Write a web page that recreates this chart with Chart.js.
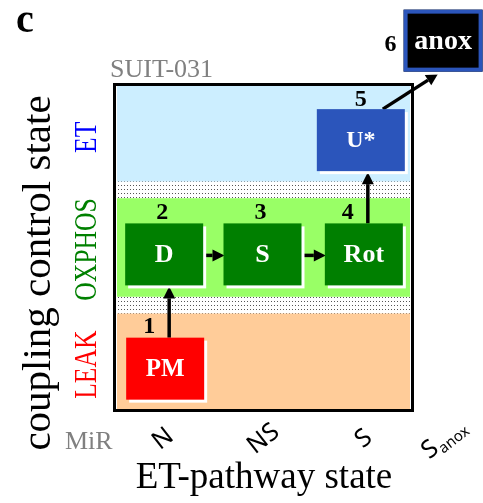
<!DOCTYPE html>
<html>
<head>
<meta charset="utf-8">
<script src="https://cdn.jsdelivr.net/npm/chart.js@4.4.1/dist/chart.umd.min.js"></script>
<style>
  html, body { margin: 0; padding: 0; background: #fff; }
  #wrap { width: 483px; height: 503px; }
</style>
</head>
<body>
<div id="wrap"><canvas id="chart" width="483" height="503"></canvas></div>
<script>
// x: ET-pathway state, y: coupling control state
const pathwayStates = ['N', 'NS', 'S', 'S|anox'];
const pathwayPos = [0.5, 1.5, 2.5, 3.3];
const couplingStates = ['LEAK', 'OXPHOS', 'ET'];
const couplingFrom = [0, 1.17, 2.34];
const couplingTo = [1, 2.17, 3.34];

// SUIT-031 protocol steps
const steps = ['PM', 'D', 'S', 'Rot', 'U*', 'anox'];
const stepNumbers = [1, 2, 3, 4, 5, 6];
const stepCoupling = ['LEAK', 'OXPHOS', 'OXPHOS', 'OXPHOS', 'ET', 'anox'];
const stepX = [0.52, 0.51, 1.49, 2.5, 2.47, 3.29];
const stepY = [0.44, 1.6, 1.6, 1.6, 2.76, 3.77];

const SERIF = '"Liberation Serif", "DejaVu Serif", serif';
const SANS = '"Noto Sans", "Open Sans", sans-serif';

const bandStyle = {
  LEAK: { fill: '#ffcc99', text: '#ff0000' },
  OXPHOS: { fill: '#99ff66', text: '#008000' },
  ET: { fill: '#cceeff', text: '#0000ff' },
};
const boxStyle = {
  LEAK: { fill: '#ff0000', w: 78, font: 25 },
  OXPHOS: { fill: '#007f00', w: 78, font: 26 },
  ET: { fill: '#2b55bb', w: 88, font: 24 },
  anox: { fill: '#000000', w: 79, font: 28, border: '#2b55bb' },
};
const BOX_H = 62;

function dotPattern(ctx) {
  const c = document.createElement('canvas');
  c.width = 3; c.height = 4;
  const p = c.getContext('2d');
  p.fillStyle = '#ffffff';
  p.fillRect(0, 0, 3, 4);
  p.fillStyle = '#555555';
  p.fillRect(1, 1, 1, 1);
  return ctx.createPattern(c, 'repeat');
}

function arrow(ctx, x1, y1, x2, y2) {
  const ang = Math.atan2(y2 - y1, x2 - x1);
  const hl = 12, hw = 6;
  const bx = x2 - hl * Math.cos(ang), by = y2 - hl * Math.sin(ang);
  ctx.save();
  ctx.strokeStyle = '#000';
  ctx.fillStyle = '#000';
  ctx.lineWidth = 3.5;
  ctx.beginPath();
  ctx.moveTo(x1, y1);
  ctx.lineTo(bx, by);
  ctx.stroke();
  ctx.beginPath();
  ctx.moveTo(x2, y2);
  ctx.lineTo(bx + hw * Math.sin(ang), by - hw * Math.cos(ang));
  ctx.lineTo(bx - hw * Math.sin(ang), by + hw * Math.cos(ang));
  ctx.closePath();
  ctx.fill();
  ctx.restore();
}

function boxOf(el, i) {
  const st = boxStyle[stepCoupling[i]];
  return {
    cx: el.x, cy: el.y,
    left: el.x - st.w / 2, right: el.x + st.w / 2,
    top: el.y - BOX_H / 2, bottom: el.y + BOX_H / 2, st: st,
  };
}

function connector(a, b) {
  if (Math.abs(a.cx - b.cx) < 10) {
    const x = a.cx + 4;
    return [x, a.top, x, b.bottom + 1];
  }
  if (Math.abs(a.cy - b.cy) < 10) {
    const y = (a.cy + b.cy) / 2 + 1;
    return [a.right, y, b.left + 1, y];
  }
  return [a.cx + 22, a.top, b.cx - 5, b.bottom + 2];
}

const diagram = {
  id: 'diagram',
  beforeDatasetsDraw(chart) {
    const { ctx, chartArea: ca, scales } = chart;
    ctx.save();
    ctx.fillStyle = dotPattern(ctx);
    ctx.fillRect(ca.left + 3, ca.top + 3, ca.width - 6, ca.height - 6);
    couplingStates.forEach((name, i) => {
      const yTop = scales.y.getPixelForValue(couplingTo[i]);
      const yBot = scales.y.getPixelForValue(couplingFrom[i]);
      ctx.fillStyle = bandStyle[name].fill;
      ctx.fillRect(ca.left + 4, yTop, ca.width - 8, yBot - yTop);
    });
    ctx.strokeStyle = '#000';
    ctx.lineWidth = 3;
    ctx.strokeRect(ca.left + 1.5, ca.top + 1.5, ca.width - 3, ca.height - 3);
    ctx.restore();
  },
  afterDatasetsDraw(chart) {
    const { ctx, chartArea: ca, scales } = chart;
    const els = chart.getDatasetMeta(0).data;
    const boxes = els.map(boxOf);
    ctx.save();

    // coupling state labels
    couplingStates.forEach((name, i) => {
      const yc = scales.y.getPixelForValue((couplingFrom[i] + couplingTo[i]) / 2);
      ctx.save();
      ctx.translate(96, yc + (name === 'ET' ? 5 : 2));
      ctx.rotate(-Math.PI / 2);
      ctx.scale(0.8, 1);
      ctx.font = '32px ' + SERIF;
      ctx.fillStyle = bandStyle[name].text;
      ctx.textAlign = 'center';
      ctx.textBaseline = 'alphabetic';
      ctx.fillText(name, 0, 0);
      ctx.restore();
    });

    // arrows between steps
    for (let i = 0; i < boxes.length - 1; i++) {
      const c = connector(boxes[i], boxes[i + 1]);
      arrow(ctx, c[0], c[1], c[2], c[3]);
    }

    // step boxes
    boxes.forEach((b, i) => {
      const st = b.st;
      ctx.fillStyle = '#ffffff';
      ctx.fillRect(b.left + 3, b.top + 3, st.w, BOX_H);
      ctx.fillStyle = st.fill;
      ctx.fillRect(b.left, b.top, st.w, BOX_H);
      if (st.border) {
        ctx.strokeStyle = st.border;
        ctx.lineWidth = 4;
        ctx.strokeRect(b.left + 2, b.top + 2, st.w - 4, BOX_H - 4);
      }
      ctx.fillStyle = '#ffffff';
      ctx.font = 'bold ' + st.font + 'px ' + SERIF;
      ctx.textAlign = 'center';
      ctx.textBaseline = 'middle';
      ctx.fillText(steps[i], b.cx, b.cy + 1);

      // step number
      ctx.fillStyle = '#000';
      ctx.font = 'bold 24px ' + SERIF;
      let nx = b.cx - 2, ny = b.top - 11;
      const next = boxes[i + 1];
      if (!next) { nx = b.left - 13; ny = b.cy + 4; }
      else if (Math.abs(next.cx - b.cx) < 10) { nx = b.cx - 16; }
      else if (next.cy < b.cy - 50) { nx = b.cx; ny = b.top - 9; }
      ctx.fillText(String(stepNumbers[i]), nx, ny);
    });

    // pathway state tick labels
    pathwayStates.forEach((lab, i) => {
      const px = scales.x.getPixelForValue(pathwayPos[i]);
      const parts = lab.split('|');
      ctx.save();
      ctx.translate(px, 439);
      ctx.rotate(-38 * Math.PI / 180);
      ctx.fillStyle = '#000';
      ctx.textBaseline = 'middle';
      ctx.font = '25px ' + SANS;
      const w0 = ctx.measureText(parts[0]).width;
      let w1 = 0;
      if (parts[1]) { ctx.font = '15px ' + SANS; w1 = ctx.measureText(parts[1]).width + 1; }
      const x0 = -(w0 + w1) / 2;
      ctx.font = '25px ' + SANS;
      ctx.textAlign = 'left';
      ctx.fillText(parts[0], x0, 0);
      if (parts[1]) {
        ctx.font = '15px ' + SANS;
        ctx.fillText(parts[1], x0 + w0 + 1, 7);
      }
      ctx.restore();
    });

    // titles and annotations
    ctx.fillStyle = '#000';
    ctx.textAlign = 'left';
    ctx.textBaseline = 'alphabetic';
    ctx.font = 'bold 40px ' + SERIF;
    ctx.fillText('c', 16, 32);

    ctx.fillStyle = '#808080';
    ctx.font = '26px ' + SERIF;
    ctx.fillText('SUIT-031', 110, 77);
    ctx.fillText('MiR', 65, 449);

    ctx.fillStyle = '#000';
    ctx.textAlign = 'center';
    ctx.font = '37px ' + SERIF;
    ctx.fillText('ET-pathway state', 264, 488);

    ctx.save();
    ctx.translate(50, 273);
    ctx.rotate(-Math.PI / 2);
    ctx.font = '41px ' + SERIF;
    ctx.fillText('coupling control state', 0, 0);
    ctx.restore();

    ctx.restore();
  },
};

new Chart(document.getElementById('chart'), {
  type: 'scatter',
  data: {
    datasets: [
      {
        label: 'SUIT-031',
        data: steps.map((s, i) => ({ x: stepX[i], y: stepY[i] })),
        pointRadius: 0,
        clip: false,
      },
    ],
  },
  options: {
    responsive: false,
    animation: false,
    devicePixelRatio: 1,
    layout: { padding: { left: 113, top: 83, right: 69, bottom: 91 } },
    plugins: { legend: { display: false }, tooltip: { enabled: false } },
    scales: {
      x: { type: 'linear', min: 0, max: 3, display: false },
      y: { type: 'linear', min: 0, max: 3.34, display: false },
    },
  },
  plugins: [diagram],
});
</script>
</body>
</html>
